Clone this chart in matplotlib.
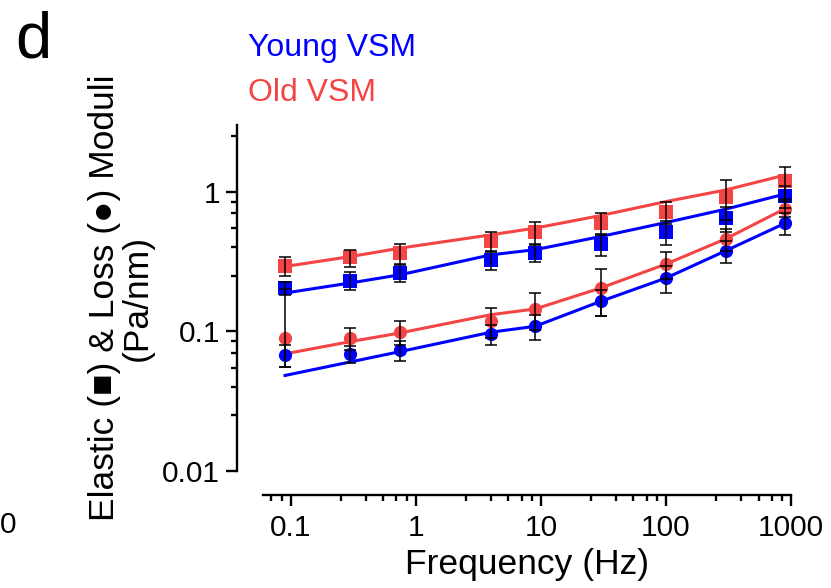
import numpy as np
import matplotlib
matplotlib.use('Agg')
import matplotlib.pyplot as plt
from matplotlib.ticker import FixedLocator, NullFormatter

plt.rcParams['font.family'] = ['Liberation Sans', 'DejaVu Sans']

# frequency (Hz)
freq = np.array([0.09, 0.3, 0.75, 4, 9, 30, 100, 300, 900])

# young VSM: elastic (squares) / loss (circles)
young_G1 = np.array([0.204, 0.231, 0.261, 0.325, 0.363, 0.421, 0.513, 0.645, 0.932])
young_G1_err = np.array([0.021, 0.033, 0.037, 0.052, 0.051, 0.075, 0.10, 0.128, 0.167])
young_G2 = np.array([0.0678, 0.069, 0.073, 0.0953, 0.1086, 0.164, 0.240, 0.377, 0.595])
young_G2_err = np.array([0.0125, 0.0098, 0.0117, 0.0153, 0.0215, 0.035, 0.052, 0.067, 0.106])

# old VSM
old_G1 = np.array([0.294, 0.338, 0.363, 0.44, 0.513, 0.595, 0.713, 0.912, 1.2])
old_G1_err = np.array([0.047, 0.047, 0.058, 0.071, 0.092, 0.106, 0.128, 0.29, 0.31])
old_G2 = np.array([0.0897, 0.0897, 0.0995, 0.118, 0.1445, 0.204, 0.303, 0.459, 0.757])
old_G2_lo = np.array([0.034, 0.016, 0.0197, 0.028, 0.043, 0.075, 0.066, 0.082, 0.10])
old_G2_hi = np.array([0.110, 0.016, 0.0197, 0.028, 0.043, 0.075, 0.066, 0.082, 0.10])

# fitted curves evaluated at the measured frequencies
young_G1_fit = np.array([0.188, 0.222, 0.254, 0.353, 0.384, 0.477, 0.601, 0.749, 0.963])
young_G2_fit = np.array([0.0483, 0.0604, 0.0716, 0.0986, 0.1086, 0.1638, 0.2405, 0.377, 0.595])
old_G1_fit = np.array([0.291, 0.343, 0.394, 0.491, 0.548, 0.674, 0.849, 1.028, 1.316])
old_G2_fit = np.array([0.069, 0.0844, 0.0974, 0.1316, 0.1446, 0.204, 0.303, 0.459, 0.757])

blue = '#0000FF'
red = '#F44444'

fig = plt.figure(figsize=(8.31, 5.88), dpi=100)
ax = fig.add_axes([263/831, 1-471/588, (791-263)/831, (471-125)/588])

lw = 2.2
ax.plot(freq, young_G1_fit, color=blue, lw=lw, zorder=2)
ax.plot(freq, young_G2_fit, color=blue, lw=lw, zorder=2)
ax.plot(freq, old_G1_fit, color=red, lw=lw, zorder=2)
ax.plot(freq, old_G2_fit, color=red, lw=lw, zorder=2)

ax.plot(freq, young_G1, 's', color=blue, ms=10, mew=0, zorder=3)
ax.plot(freq, old_G1, 's', color=red, ms=10, mew=0, zorder=3)
ax.plot(freq, young_G2, 'o', color=blue, ms=9.5, mew=0, zorder=3)
ax.plot(freq, old_G2, 'o', color=red, ms=9.5, mew=0, zorder=3)

ekw = dict(fmt='none', ecolor='black', elinewidth=1.1, capsize=4.2, capthick=1.1, zorder=4)
ax.errorbar(freq, young_G1, yerr=young_G1_err, **ekw)
ax.errorbar(freq, old_G1, yerr=old_G1_err, **ekw)
ax.errorbar(freq, young_G2, yerr=young_G2_err, **ekw)
ax.errorbar(freq, old_G2, yerr=[old_G2_lo, old_G2_hi], **ekw)

ax.set_xscale('log')
ax.set_yscale('log')
ax.set_xlim(0.06, 1000)
ax.set_ylim(0.01, 3)

for s in ['top', 'right']:
    ax.spines[s].set_visible(False)
ax.spines['left'].set_position(('outward', 18.7))
ax.spines['bottom'].set_position(('outward', 17.3))
for s in ['left', 'bottom']:
    ax.spines[s].set_linewidth(1.7)

steps = np.array([2.5, 4, 5.5, 7, 8.5])
ax.xaxis.set_major_locator(FixedLocator([0.1, 1, 10, 100, 1000]))
ax.xaxis.set_minor_locator(FixedLocator(np.concatenate([[0.07, 0.085]] +
                                                       [steps * d for d in [0.1, 1, 10, 100]])))
ax.yaxis.set_major_locator(FixedLocator([0.01, 0.1, 1]))
ax.yaxis.set_minor_locator(FixedLocator(np.concatenate([steps * d for d in [0.01, 0.1]] + [[2.5]])))
ax.set_xticklabels(['0.1', '1', '10', '100', '1000'])
ax.set_yticklabels(['0.01', '0.1', '1'])
ax.xaxis.set_minor_formatter(NullFormatter())
ax.yaxis.set_minor_formatter(NullFormatter())
ax.tick_params(which='major', length=8, width=1.7, labelsize=21.5)
ax.tick_params(axis='y', which='major', pad=4)
ax.tick_params(axis='x', which='major', pad=6)
ax.tick_params(which='minor', length=4, width=1.7)

ax.set_xlabel('Frequency (Hz)', fontsize=25.5, labelpad=4)
ax.set_ylabel('Elastic (■) & Loss (●) Moduli\n(Pa/nm)', fontsize=25.5, labelpad=6,
              linespacing=1.0)

fig.text(15/831, 1-40/588, 'd', fontsize=47, va='center', ha='left')
fig.text(248/831, 1-48/588, 'Young VSM', color=blue, fontsize=23, va='center')
fig.text(248/831, 1-93/588, 'Old VSM', color=red, fontsize=23, va='center')
fig.text(0, 1-525/588, '0', fontsize=21.5, va='center', ha='left')

fig.savefig('out.png', dpi=100)
